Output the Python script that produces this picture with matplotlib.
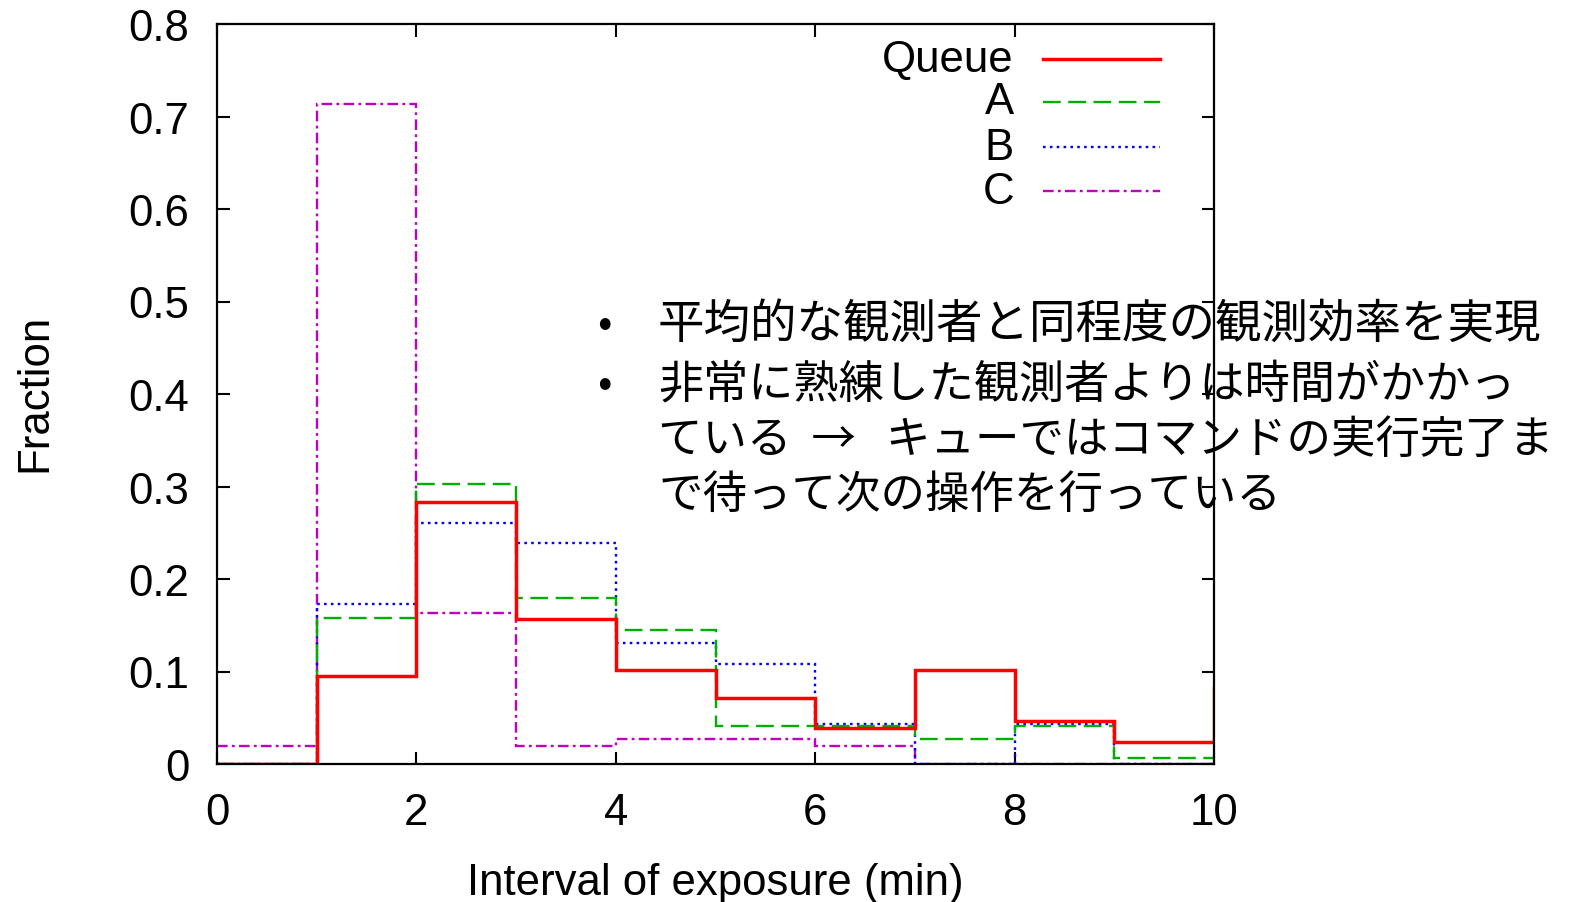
import matplotlib
matplotlib.use("Agg")
import matplotlib.pyplot as plt
import numpy as np

# ---- data ----
edges = [0, 1, 2, 3, 4, 5, 6, 7, 8, 9, 10]
queue_edges = [0, 1, 2, 3, 4, 5, 6, 7, 8, 9, 10, 11]
queue = [0.0, 0.095, 0.283, 0.157, 0.102, 0.071, 0.039, 0.102, 0.047, 0.024, 0.082]
a_vals = [0.0, 0.158, 0.303, 0.179, 0.145, 0.041, 0.041, 0.027, 0.041, 0.006]
b_vals = [0.0, 0.173, 0.261, 0.239, 0.131, 0.108, 0.043, 0.0, 0.043, 0.0]
c_vals = [0.020, 0.714, 0.163, 0.020, 0.027, 0.027, 0.020, 0.0, 0.0, 0.0]
labels = ["Queue", "A", "B", "C"]
xticks = [0, 2, 4, 6, 8, 10]
yticks = [0, 0.1, 0.2, 0.3, 0.4, 0.5, 0.6, 0.7, 0.8]
ytick_labels = ["0", "0.1", "0.2", "0.3", "0.4", "0.5", "0.6", "0.7", "0.8"]
notes = [
    ("•", "平均的な観測者と同程度の観測効率を実現"),
    ("•", "非常に熟練した観測者よりは時間がかかっ"),
    ("", "ている  →   キューではコマンドの実行完了ま"),
    ("", "で待って次の操作を行っている"),
]

plt.rcParams['font.family'] = ['Liberation Sans', 'DejaVu Sans']

W, H = 1575, 903
FS = 31.5
fig = plt.figure(figsize=(W / 100, H / 100), dpi=100)
ax = fig.add_axes([217 / W, 1 - 765 / H, (1214 - 217) / W, (765 - 25) / H])

styles = [
    dict(color="#ff0000", lw=2.5, linestyle="-"),
    dict(color="#00b000", lw=1.7, linestyle=(0, (7.5, 3.2))),
    dict(color="#0000ff", lw=1.7, linestyle=(0, (1.1, 1.8))),
    dict(color="#c000c0", lw=1.7, linestyle=(0, (4.5, 1.8, 1.2, 1.8))),
]

series = [(queue_edges, queue), (edges, a_vals), (edges, b_vals), (edges, c_vals)]
order = [3, 2, 1, 0]
for i in order:
    e, v = series[i]
    ax.stairs(v, e, baseline=None, **styles[i], zorder=3 + (3 - i))

ax.set_xlim(0, 10)
ax.set_ylim(0, 0.8)
ax.set_xticks(xticks)
ax.set_xticklabels([str(t) for t in xticks])
ax.set_yticks(yticks)
ax.set_yticklabels(ytick_labels)
ax.tick_params(direction="in", length=9, width=1.5, labelsize=FS,
               top=True, right=True, pad=20, colors="black")
ax.tick_params(axis="x", pad=20)
for s in ax.spines.values():
    s.set_linewidth(1.6)
    s.set_zorder(10)

ax.set_xlabel("Interval of exposure (min)", fontsize=FS, labelpad=21)
fig.text(35 / W, 1 - 393 / H, "Fraction", rotation=90, fontsize=FS,
         ha="center", va="center")

# legend (gnuplot style, right-aligned labels)
leg_rows = [60, 103, 148, 192]
for lab, st, ypx in zip(labels, styles, leg_rows):
    yf = (765 - ypx) / 740
    ax.plot([(1043 - 217) / 997, (1160 - 217) / 997], [yf, yf],
            transform=ax.transAxes, clip_on=False, **st)
    ax.text((1014 - 217) / 997, yf, lab, transform=ax.transAxes,
            ha="right", va="center", fontsize=FS)

# overlay text
jp = ['Noto Sans CJK JP', 'DejaVu Sans']
line_y = [325, 385, 440, 495]
line_fs = [33.5, 32.5, 32, 32]
for (bul, txt), ypx, fs in zip(notes, line_y, line_fs):
    if bul:
        fig.text(604 / W, 1 - ypx / H, bul, family=jp, fontsize=31,
                 ha="center", va="center")
    fig.text(658 / W, 1 - ypx / H, txt, family=jp, fontsize=fs,
             ha="left", va="center")

fig.savefig("out.png", dpi=100)
